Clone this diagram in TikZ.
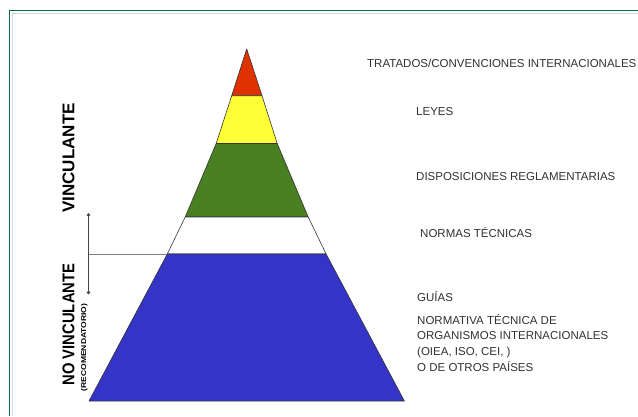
\documentclass[tikz,border=0pt]{standalone}
\usepackage{fontspec}
\setmainfont{Liberation Sans}
\definecolor{framegreen}{RGB}{0,105,75}
\definecolor{shadowgray}{RGB}{215,215,215}
\definecolor{pred}{RGB}{222,50,0}
\definecolor{pyellow}{RGB}{255,255,55}
\definecolor{pgreen}{RGB}{72,128,34}
\definecolor{pblue}{RGB}{52,52,198}
\definecolor{txtgray}{RGB}{50,50,50}
\definecolor{brackgray}{RGB}{70,70,70}
\tikzset{
  band/.style={draw=black!80, line width=0.6pt, line join=round},
  lbl/.style={anchor=base west, inner sep=0pt, text=txtgray, font=\fontsize{11.5}{13}\selectfont},
  vlbl/.style={rotate=90, inner sep=0pt, text=black, font=\bfseries\fontsize{17}{19}\selectfont},
  slbl/.style={rotate=90, inner sep=0pt, text=black, font=\bfseries\fontsize{7}{8}\selectfont},
  brack/.style={draw=brackgray, line width=1.1pt},
  hbrack/.style={draw=gray, line width=0.8pt},
  enddot/.style={circle, fill=brackgray, inner sep=0pt, minimum size=3.6pt}
}
\begin{document}
\begin{tikzpicture}[x=1pt,y=-1pt]
\useasboundingbox (0,0) rectangle (638,416);
\fill[white] (0,0) rectangle (638,416);
% frame
\draw[shadowgray, line width=1pt] (12.5,416) -- (12.5,13.5) -- (638,13.5);
\draw[framegreen, line width=1.3pt] (9.5,416) -- (9.5,10.5) -- (638,10.5);
% pyramid coordinates
\coordinate (A) at (246.7,49);
\coordinate (L1) at (231.7,95.7); \coordinate (R1) at (262.0,95.7);
\coordinate (L2) at (216.2,143.5); \coordinate (R2) at (277.2,143.5);
\coordinate (L3) at (185.2,217); \coordinate (R3) at (308.2,217);
\coordinate (L4) at (167.3,254); \coordinate (R4) at (326.1,254);
\coordinate (L5) at (89,401); \coordinate (R5) at (404.4,401);
\path[band, fill=pred] (A) -- (R1) -- (L1) -- cycle;
\path[band, fill=pyellow] (L1) -- (R1) -- (R2) -- (L2) -- cycle;
\path[band, fill=pgreen] (L2) -- (R2) -- (R3) -- (L3) -- cycle;
\path[band, fill=white] (L3) -- (R3) -- (R4) -- (L4) -- cycle;
\path[band, fill=pblue] (L4) -- (R4) -- (R5) -- (L5) -- cycle;
% bracket
\coordinate (btop) at (88.5,215);
\coordinate (bbot) at (88.5,292.5);
\coordinate (bmid) at (88.5,254);
\draw[hbrack] (bmid) -- (L4);
\draw[brack] (btop) -- (bbot);
\node[enddot] (dtop) at (btop) {};
\node[enddot] (dbot) at (bbot) {};
% left labels
\node[vlbl] (vinc) at (68.5,158) {VINCULANTE};
\node[vlbl] (novinc) at (68.5,324.5) {\scalebox{0.87}[1]{NO VINCULANTE}};
\node[slbl] (recom) at (84.3,347.5) {\scalebox{1.22}[1]{(RECOMENDATORIO)}};
% right labels
\node[lbl] (tratados) at (367,67) {TRATADOS/CONVENCIONES INTERNACIONALES};
\node[lbl] (leyes) at (416,115.8) {LEYES};
\node[lbl] (dispos) at (416,180) {DISPOSICIONES REGLAMENTARIAS};
\node[lbl] (normas) at (420,237) {NORMAS TÉCNICAS};
\node[lbl] (guias) at (417,301) {GUÍAS};
\node[lbl] (normativa) at (417,324) {NORMATIVA TÉCNICA DE};
\node[lbl] (organismos) at (417,339.7) {ORGANISMOS INTERNACIONALES};
\node[lbl] (oiea) at (417,355.4) {(OIEA, ISO, CEI, )};
\node[lbl] (otros) at (417,371.5) {O DE OTROS PAÍSES};
\end{tikzpicture}
\end{document}
